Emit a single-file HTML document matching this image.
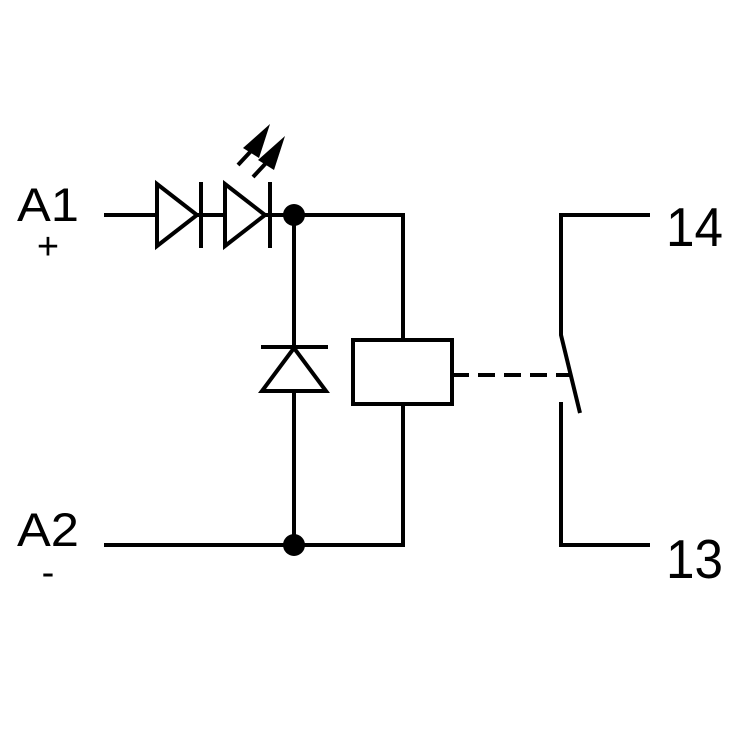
<!DOCTYPE html>
<html><head><style>html,body{margin:0;padding:0;background:#fff}</style></head>
<body>
<svg width="750" height="750" viewBox="0 0 750 750" xmlns="http://www.w3.org/2000/svg">
<g stroke="#000" stroke-width="4" fill="none" stroke-linecap="butt">
<line x1="104" y1="215" x2="405" y2="215"/>
<polygon points="157,184 197,215 157,246" fill="#fff"/>
<line x1="201" y1="182" x2="201" y2="248"/>
<polygon points="225,184 265,215 225,246" fill="#fff"/>
<line x1="270" y1="182" x2="270" y2="248"/>
<line x1="294" y1="215" x2="294" y2="545"/>
<line x1="261" y1="347" x2="328" y2="347"/>
<polygon points="294,348 262,391 326,391" fill="#fff"/>
<line x1="403" y1="213" x2="403" y2="340"/>
<rect x="353" y="340" width="99" height="64" fill="#fff"/>
<line x1="403" y1="404" x2="403" y2="547"/>
<line x1="104" y1="545" x2="405" y2="545"/>
<line x1="452" y1="375" x2="572" y2="375" stroke-dasharray="17,9"/>
<polyline points="650,215 561,215 561,335 580,413"/>
<polyline points="561,402 561,545 650,545"/>
<line x1="238" y1="165" x2="252" y2="150"/>
<line x1="253" y1="177" x2="267" y2="162"/>
</g>
<polygon points="243,148 270,124 259,158" fill="#000"/>
<polygon points="258,160 285,136 274,170" fill="#000"/>
<circle cx="294" cy="215" r="11" fill="#000"/>
<circle cx="294" cy="545" r="11" fill="#000"/>
<g font-family="Liberation Sans, sans-serif" fill="#000">
<text x="17" y="221" font-size="47" textLength="62" lengthAdjust="spacingAndGlyphs">A1</text>
<text x="48" y="259" font-size="38" text-anchor="middle">+</text>
<text x="17" y="546" font-size="47" textLength="62" lengthAdjust="spacingAndGlyphs">A2</text>
<text x="48" y="585" font-size="38" text-anchor="middle">-</text>
<text x="666" y="246" font-size="55" textLength="57" lengthAdjust="spacingAndGlyphs">14</text>
<text x="666" y="578" font-size="55" textLength="57" lengthAdjust="spacingAndGlyphs">13</text>
</g>
</svg>
</body></html>
